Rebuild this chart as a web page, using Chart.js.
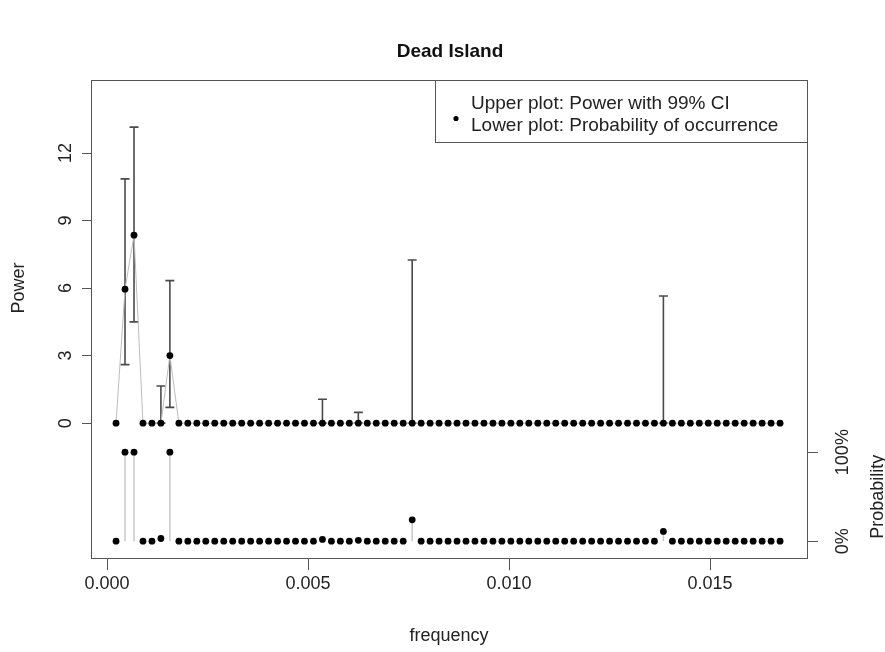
<!DOCTYPE html>
<html>
<head>
<meta charset="utf-8">
<script src="https://cdn.jsdelivr.net/npm/chart.js@4.4.1/dist/chart.umd.min.js"></script>
<style>
  html, body { margin: 0; padding: 0; background: #fff; }
  canvas { display: block; }
</style>
</head>
<body>
<canvas id="c" width="885" height="652"></canvas>
<script>
// frequency of each spectral point
const freqs = [
  0.000223, 0.000446, 0.000670, 0.000893, 0.001116, 0.001339, 0.001562, 0.001786, 0.002009, 0.002232,
  0.002455, 0.002678, 0.002902, 0.003125, 0.003348, 0.003571, 0.003794, 0.004018, 0.004241, 0.004464,
  0.004687, 0.004910, 0.005134, 0.005357, 0.005580, 0.005803, 0.006026, 0.006250, 0.006473, 0.006696,
  0.006919, 0.007142, 0.007366, 0.007589, 0.007812, 0.008035, 0.008258, 0.008482, 0.008705, 0.008928,
  0.009151, 0.009374, 0.009598, 0.009821, 0.010044, 0.010267, 0.010490, 0.010714, 0.010937, 0.011160,
  0.011383, 0.011606, 0.011830, 0.012053, 0.012276, 0.012499, 0.012722, 0.012946, 0.013169, 0.013392,
  0.013615, 0.013838, 0.014062, 0.014285, 0.014508, 0.014731, 0.014954, 0.015178, 0.015401, 0.015624,
  0.015847, 0.016070, 0.016294, 0.016517, 0.016740
];

// upper plot: power
const power = [
  0, 5.95, 8.35, 0, 0, 0, 3.0, 0, 0, 0,
  0, 0, 0, 0, 0, 0, 0, 0, 0, 0,
  0, 0, 0, 0, 0, 0, 0, 0, 0, 0,
  0, 0, 0, 0, 0, 0, 0, 0, 0, 0,
  0, 0, 0, 0, 0, 0, 0, 0, 0, 0,
  0, 0, 0, 0, 0, 0, 0, 0, 0, 0,
  0, 0, 0, 0, 0, 0, 0, 0, 0, 0,
  0, 0, 0, 0, 0
];

// 99% CI, only where drawn
const ciIndex = [1, 2, 5, 6, 23, 27, 33, 61];
const ciLow   = [2.6, 4.5, 0, 0.7, 0, 0, 0, 0];
const ciHigh  = [10.85, 13.15, 1.65, 6.33, 1.06, 0.48, 7.25, 5.65];

// lower plot: probability of occurrence
const prob = [
  0, 1, 1, 0, 0, 0.03, 1, 0, 0, 0,
  0, 0, 0, 0, 0, 0, 0, 0, 0, 0,
  0, 0, 0, 0.02, 0, 0, 0, 0.01, 0, 0,
  0, 0, 0, 0.24, 0, 0, 0, 0, 0, 0,
  0, 0, 0, 0, 0, 0, 0, 0, 0, 0,
  0, 0, 0, 0, 0, 0, 0, 0, 0, 0,
  0, 0.11, 0, 0, 0, 0, 0, 0, 0, 0,
  0, 0, 0, 0, 0
];

const xTicks = [0, 0.005, 0.010, 0.015];
const powerTicks = [0, 3, 6, 9, 12];
const probTicks = [0, 1];
const probTickLabels = ['0%', '100%'];

// both panels share one plot box: probability 0..1 sits below power 0
const powerMin = -6.0, powerMax = 15.244;
const probZero = -5.244, probSpan = 3.956;

const FONT = '"Liberation Sans", Arial, Helvetica, sans-serif';

const ciData = [];
ciIndex.forEach((k, i) => {
  ciData.push({x: freqs[k], y: ciLow[i]}, {x: freqs[k], y: ciHigh[i]}, {x: freqs[k], y: null});
});
const stemData = [];
prob.forEach((p, i) => {
  if (p > 0) stemData.push({x: freqs[i], y: 0}, {x: freqs[i], y: p}, {x: freqs[i], y: null});
});

const rDecor = {
  id: 'rDecor',
  afterDraw(chart) {
    const {ctx, chartArea: a, scales} = chart;
    ctx.save();
    ctx.strokeStyle = '#555';
    ctx.lineWidth = 1;
    ctx.strokeRect(Math.round(a.left) + 0.5, Math.round(a.top) + 0.5,
      Math.round(a.right - a.left), Math.round(a.bottom - a.top));

    const vText = (t, x, y) => {
      ctx.save(); ctx.translate(x, y); ctx.rotate(-Math.PI / 2);
      ctx.fillText(t, 0, 0); ctx.restore();
    };
    ctx.fillStyle = '#222';
    ctx.textAlign = 'center';
    ctx.textBaseline = 'middle';
    ctx.font = '18px ' + FONT;
    powerTicks.forEach(v => vText(String(v), a.left - 25, scales.y.getPixelForValue(v)));
    probTicks.forEach((v, i) => vText(probTickLabels[i], a.right + 36, scales.y2.getPixelForValue(v)));
    vText('Power', 19, scales.y.getPixelForValue(6));
    vText('Probability', 878, scales.y2.getPixelForValue(0.5));

    // legend
    const lx = 435.5, ly = Math.round(a.top) + 0.5;
    ctx.fillStyle = '#fff';
    ctx.fillRect(lx, ly, Math.round(a.right) + 0.5 - lx, 62);
    ctx.strokeRect(lx, ly, Math.round(a.right) + 0.5 - lx, 62);
    ctx.fillStyle = '#222';
    ctx.textAlign = 'left';
    ctx.font = '19px ' + FONT;
    ctx.fillText('Upper plot: Power with 99% CI', 471, ly + 23);
    ctx.fillText('Lower plot: Probability of occurrence', 471, ly + 45);
    ctx.fillStyle = '#000';
    ctx.beginPath();
    ctx.arc(456, ly + 38, 2.6, 0, Math.PI * 2);
    ctx.fill();
    ctx.restore();
  }
};

new Chart(document.getElementById('c'), {
  type: 'scatter',
  data: {
    datasets: [
      {
        type: 'line', data: freqs.map((f, i) => ({x: f, y: power[i]})),
        borderColor: '#bdbdbd', borderWidth: 1, tension: 0,
        pointRadius: 3.4, pointBackgroundColor: '#000', pointBorderWidth: 0,
        yAxisID: 'y', order: 1
      },
      {
        type: 'line', data: ciData, borderColor: '#4a4a4a', borderWidth: 1.6, spanGaps: false,
        pointStyle: 'line', pointRadius: 4.5, pointBorderColor: '#4a4a4a', pointBorderWidth: 1.6,
        yAxisID: 'y', order: 2
      },
      {
        type: 'line', data: stemData, borderColor: '#c8c8c8', borderWidth: 1.5, spanGaps: false,
        pointRadius: 0, yAxisID: 'y2', order: 3
      },
      {
        data: freqs.map((f, i) => ({x: f, y: prob[i]})),
        pointRadius: 3.4, pointBackgroundColor: '#000', pointBorderWidth: 0,
        yAxisID: 'y2', order: 0
      }
    ]
  },
  options: {
    responsive: false,
    animation: false,
    devicePixelRatio: 1,
    layout: {padding: {left: 82, right: 67, top: 0, bottom: 5}},
    plugins: {
      legend: {display: false},
      tooltip: {enabled: false},
      title: {
        display: true, text: 'Dead Island', color: '#111',
        font: {family: FONT, size: 19, weight: 'bold'},
        padding: {top: 40.6, bottom: 16.6}
      }
    },
    scales: {
      x: {
        type: 'linear', min: -0.0004, max: 0.01741,
        afterBuildTicks: s => { s.ticks = xTicks.map(v => ({value: v})); },
        ticks: {
          color: '#222', padding: 3.5, maxRotation: 0,
          font: {family: FONT, size: 18},
          callback: v => v.toFixed(3)
        },
        grid: {drawOnChartArea: false, drawTicks: true, tickLength: 12, color: '#555'},
        border: {display: false},
        title: {
          display: true, text: 'frequency', color: '#222',
          font: {family: FONT, size: 18}, padding: {top: 26.6, bottom: 0}
        }
      },
      y: {
        type: 'linear', position: 'left', min: powerMin, max: powerMax,
        afterBuildTicks: s => { s.ticks = powerTicks.map(v => ({value: v})); },
        ticks: {display: false},
        grid: {drawOnChartArea: false, drawTicks: true, tickLength: 9, color: '#555'},
        border: {display: false}
      },
      y2: {
        type: 'linear', position: 'right',
        min: (powerMin - probZero) / probSpan, max: (powerMax - probZero) / probSpan,
        afterBuildTicks: s => { s.ticks = probTicks.map(v => ({value: v})); },
        ticks: {display: false},
        grid: {drawOnChartArea: false, drawTicks: true, tickLength: 11, color: '#555'},
        border: {display: false}
      }
    }
  },
  plugins: [rDecor]
});
</script>
</body>
</html>
